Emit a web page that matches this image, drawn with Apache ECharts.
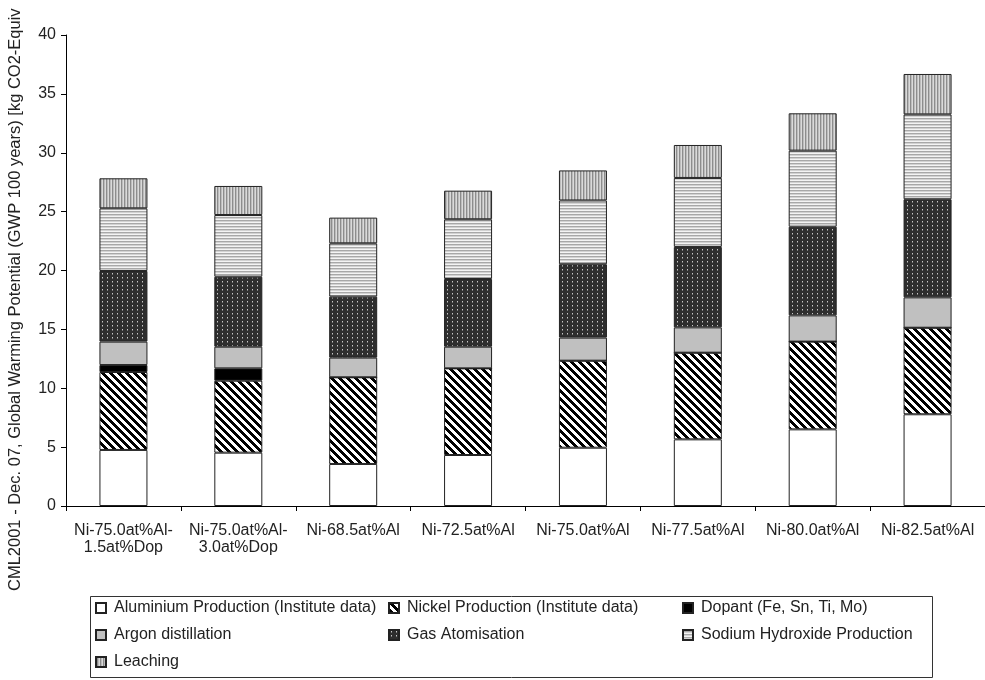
<!DOCTYPE html>
<html><head><meta charset="utf-8">
<script src="https://cdn.jsdelivr.net/npm/echarts@6/dist/echarts.min.js"></script>
<style>html,body{margin:0;padding:0;background:#fff}#c{width:985px;height:680px}</style>
</head><body><div id="c"></div>
<script>
const categories = ['Ni-75.0at%Al-\n1.5at%Dop', 'Ni-75.0at%Al-\n3.0at%Dop', 'Ni-68.5at%Al', 'Ni-72.5at%Al', 'Ni-75.0at%Al', 'Ni-77.5at%Al', 'Ni-80.0at%Al', 'Ni-82.5at%Al'];
const aluminium = [4.76, 4.53, 3.57, 4.33, 4.95, 5.66, 6.51, 7.79];
const nickel    = [6.62, 6.11, 7.36, 7.36, 7.39, 7.36, 7.45, 7.35];
const dopant    = [0.59, 1.05, 0, 0, 0, 0, 0, 0];
const argon     = [1.99, 1.84, 1.67, 1.84, 1.96, 2.15, 2.23, 2.58];
const gas       = [6.00, 5.94, 5.18, 5.75, 6.23, 6.83, 7.53, 8.33];
const sodium    = [5.32, 5.24, 4.53, 5.07, 5.42, 5.86, 6.46, 7.21];
const leaching  = [2.55, 2.47, 2.18, 2.43, 2.55, 2.80, 3.17, 3.43];
const yTicks = { min: 0, max: 40, interval: 5 };
const seriesNames = ['Aluminium Production (Institute data)', 'Nickel Production (Institute data)', 'Dopant (Fe, Sn, Ti, Mo)', 'Argon distillation', 'Gas Atomisation', 'Sodium Hydroxide Production', 'Leaching'];

function tile(w, h, painter) {
  const c = document.createElement('canvas');
  c.width = w; c.height = h;
  const g = c.getContext('2d');
  painter(g, w, h);
  return { image: c, repeat: 'repeat' };
}
const nickelPat = tile(8, 8, (g, w, h) => {
  g.fillStyle = '#fff'; g.fillRect(0, 0, w, h);
  g.fillStyle = '#000';
  for (let x = 0; x < w; x++) for (let y = 0; y < h; y++) {
    if (((x - y) % 8 + 8) % 8 < 4) g.fillRect(x, y, 1, 1);
  }
});
const gasPat = tile(5, 4, (g, w, h) => {
  g.fillStyle = '#2e2e2e'; g.fillRect(0, 0, w, h);
  g.fillStyle = '#c8c8c8'; g.fillRect(2, 1, 1, 1);
  g.fillStyle = '#7a7a7a'; g.fillRect(2, 2, 1, 1);
});
const sodiumPat = tile(4, 3, (g, w, h) => {
  g.fillStyle = '#f4f4f4'; g.fillRect(0, 0, w, 1);
  g.fillStyle = '#a8a8a8'; g.fillRect(0, 1, w, 1);
  g.fillStyle = '#d2d2d2'; g.fillRect(0, 2, w, 1);
});
const leachPat = tile(3, 4, (g, w, h) => {
  g.fillStyle = '#dadada'; g.fillRect(0, 0, 1, h);
  g.fillStyle = '#8c8c8c'; g.fillRect(1, 0, 1, h);
  g.fillStyle = '#bcbcbc'; g.fillRect(2, 0, 1, h);
});
const fills = ['#ffffff', nickelPat, '#000000', '#c0c0c0', gasPat, sodiumPat, leachPat];
const dataSets = [aluminium, nickel, dopant, argon, gas, sodium, leaching];

const chart = echarts.init(document.getElementById('c'), null, { renderer: 'canvas' });
const font = 'Arial, "Liberation Sans", sans-serif';
const legendPos = [[95, 600], [388, 600], [682, 600], [95, 627], [388, 627], [682, 627], [95, 654]];

chart.setOption({
  animation: false,
  backgroundColor: '#fff',
  textStyle: { fontFamily: font },
  grid: { left: 66, top: 35, width: 920, height: 471 },
  xAxis: {
    type: 'category', data: categories,
    axisLine: { lineStyle: { color: '#000', width: 1 } },
    axisTick: { show: true, length: 5, lineStyle: { color: '#000' } },
    axisLabel: { interval: 0, fontSize: 16, color: '#222', margin: 16, lineHeight: 17, fontFamily: font }
  },
  yAxis: {
    type: 'value', min: yTicks.min, max: yTicks.max, interval: yTicks.interval,
    axisLine: { show: true, lineStyle: { color: '#000', width: 1 } },
    axisTick: { show: true, length: 5, lineStyle: { color: '#000' } },
    splitLine: { show: false },
    axisLabel: { fontSize: 16, color: '#222', margin: 10, fontFamily: font }
  },
  legend: seriesNames.map((n, i) => ({
    data: [n], left: legendPos[i][0], top: legendPos[i][1],
    itemWidth: 10, itemHeight: 10, icon: 'rect', padding: 0,
    textStyle: { fontSize: 16, color: '#222', fontFamily: font, lineHeight: 16, padding: [0, 0, 0, 3] }
  })),
  graphic: [
    { type: 'rect', shape: { x: 90.5, y: 596.5, width: 842, height: 81 }, style: { fill: 'none', stroke: '#333', lineWidth: 1 }, silent: true },
    { type: 'text', x: 15, y: 591, rotation: Math.PI / 2,
      style: { text: 'CML2001 - Dec. 07, Global Warming Potential (GWP 100 years) [kg CO2-Equiv', fontSize: 16.5, fill: '#222', fontFamily: font, textAlign: 'left', textVerticalAlign: 'middle' } }
  ],
  series: seriesNames.map((n, i) => ({
    name: n, type: 'bar', stack: 'total', barWidth: 48,
    data: dataSets[i],
    itemStyle: { color: fills[i], borderColor: '#222', borderWidth: 1 },
    emphasis: { disabled: true }
  }))
});
</script></body></html>
